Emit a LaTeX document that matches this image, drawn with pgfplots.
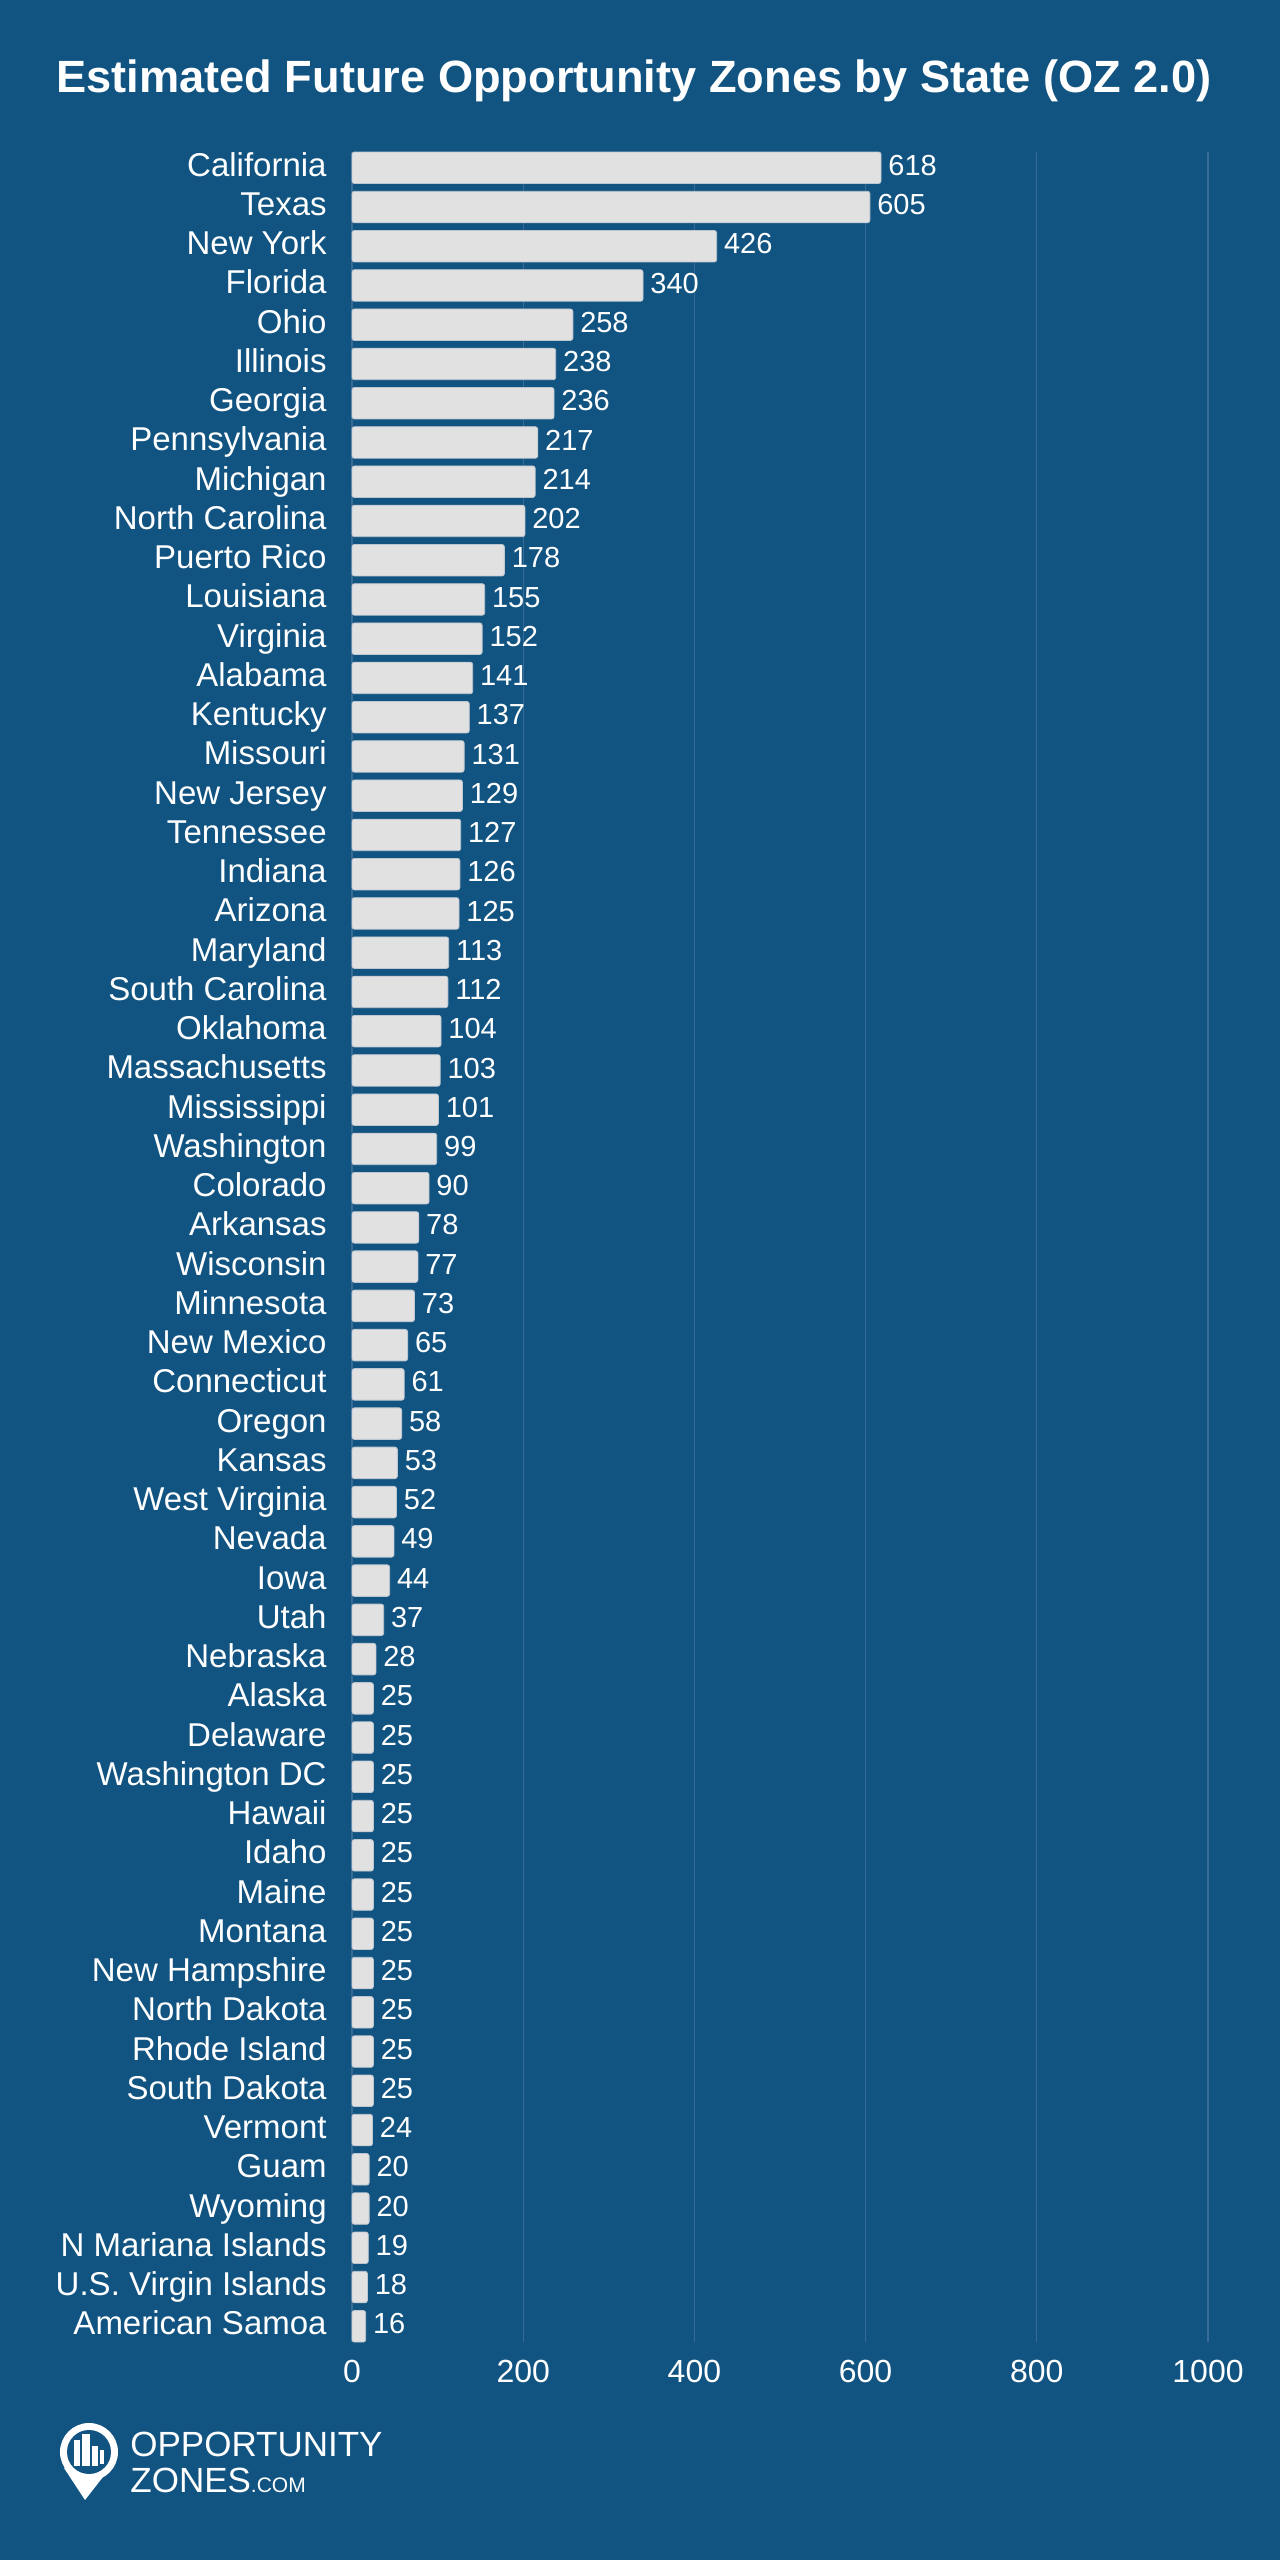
\documentclass[border=0pt]{standalone}
\usepackage{pgfplots}
\pgfplotsset{compat=1.18}
\usepackage{pgfplotstable}
\usepackage{fontspec}
\setmainfont{Liberation Sans}
\definecolor{bg}{RGB}{17,84,129}
\definecolor{gridc}{RGB}{55,106,148}
\definecolor{barc}{RGB}{225,225,225}
\definecolor{barb}{RGB}{190,198,208}
\pgfplotstableread{
idx val
0 618
1 605
2 426
3 340
4 258
5 238
6 236
7 217
8 214
9 202
10 178
11 155
12 152
13 141
14 137
15 131
16 129
17 127
18 126
19 125
20 113
21 112
22 104
23 103
24 101
25 99
26 90
27 78
28 77
29 73
30 65
31 61
32 58
33 53
34 52
35 49
36 44
37 37
38 28
39 25
40 25
41 25
42 25
43 25
44 25
45 25
46 25
47 25
48 25
49 25
50 24
51 20
52 20
53 19
54 18
55 16
}\oztable
\begin{document}
\begin{tikzpicture}
\fill[bg] (0,0) rectangle (640pt,1280pt);
\node[text=white, font=\fontsize{22.6pt}{26pt}\selectfont\bfseries] at (317pt,1239.5pt) {Estimated Future Opportunity Zones by State (OZ 2.0)};
\begin{axis}[
  at={(176pt,109pt)}, anchor=south west,
  scale only axis,
  width=428pt, height=1095pt,
  xbar, bar width=15.75pt,
  xmin=0, xmax=1000,
  ymin=-0.401, ymax=55.401,
  y dir=reverse,
  xtick={0,200,400,600,800,1000},
  ytick={0,...,55},
  yticklabels={California,Texas,New York,Florida,Ohio,Illinois,Georgia,Pennsylvania,Michigan,North Carolina,Puerto Rico,Louisiana,Virginia,Alabama,Kentucky,Missouri,New Jersey,Tennessee,Indiana,Arizona,Maryland,South Carolina,Oklahoma,Massachusetts,Mississippi,Washington,Colorado,Arkansas,Wisconsin,Minnesota,New Mexico,Connecticut,Oregon,Kansas,West Virginia,Nevada,Iowa,Utah,Nebraska,Alaska,Delaware,Washington DC,Hawaii,Idaho,Maine,Montana,New Hampshire,North Dakota,Rhode Island,South Dakota,Vermont,Guam,Wyoming,N Mariana Islands,U.S. Virgin Islands,American Samoa},
  /pgf/number format/assume math mode=true,
  xticklabel={\pgfmathprintnumber[1000 sep={}]{\tick}},
  axis line style={draw=none},
  major tick length=0pt,
  xmajorgrids, ymajorgrids=false,
  major grid style={draw=gridc, line width=0.6pt},
  yticklabel style={anchor=east, inner sep=0pt, xshift=-12.5pt, text height=11.8pt, text depth=3.3pt, text=white, font=\fontsize{16.5pt}{19pt}\selectfont},
  xticklabel style={anchor=north, inner sep=0pt, yshift=-9pt, text=white, font=\fontsize{16pt}{18pt}\selectfont},
  nodes near coords,
  every node near coord/.append style={anchor=west, inner sep=0pt, xshift=3.5pt, text height=10.4pt, text depth=2.8pt, text=white, font=\fontsize{14.5pt}{16pt}\selectfont},
  clip=false,
]
\addplot[fill=barc, draw=barb, line width=0.4pt, rounded corners=1.2pt] table[x=val, y=idx] {\oztable};
\end{axis}
% logo
\fill[white] (44.5pt,54pt) circle (14.5pt);
\fill[white] (32pt,46pt) -- (42.5pt,30pt) -- (55pt,46pt) -- cycle;
\fill[bg] (44.5pt,54pt) circle (11pt);
\fill[white] (37pt,47pt) rectangle (40pt,60pt);
\fill[white] (41pt,47pt) rectangle (45pt,63pt);
\fill[white] (46pt,47pt) rectangle (49pt,57pt);
\fill[white] (50pt,48pt) rectangle (52pt,55pt);
\node[anchor=base west, inner sep=0pt, text=white, font=\fontsize{17.5pt}{20pt}\selectfont] at (65pt,51.5pt) {OPPORTUNITY};
\node[anchor=base west, inner sep=0pt, text=white, font=\fontsize{17.5pt}{20pt}\selectfont] at (65pt,34pt) {ZONES\fontsize{10.5pt}{12pt}\selectfont.COM};
\end{tikzpicture}
\end{document}
